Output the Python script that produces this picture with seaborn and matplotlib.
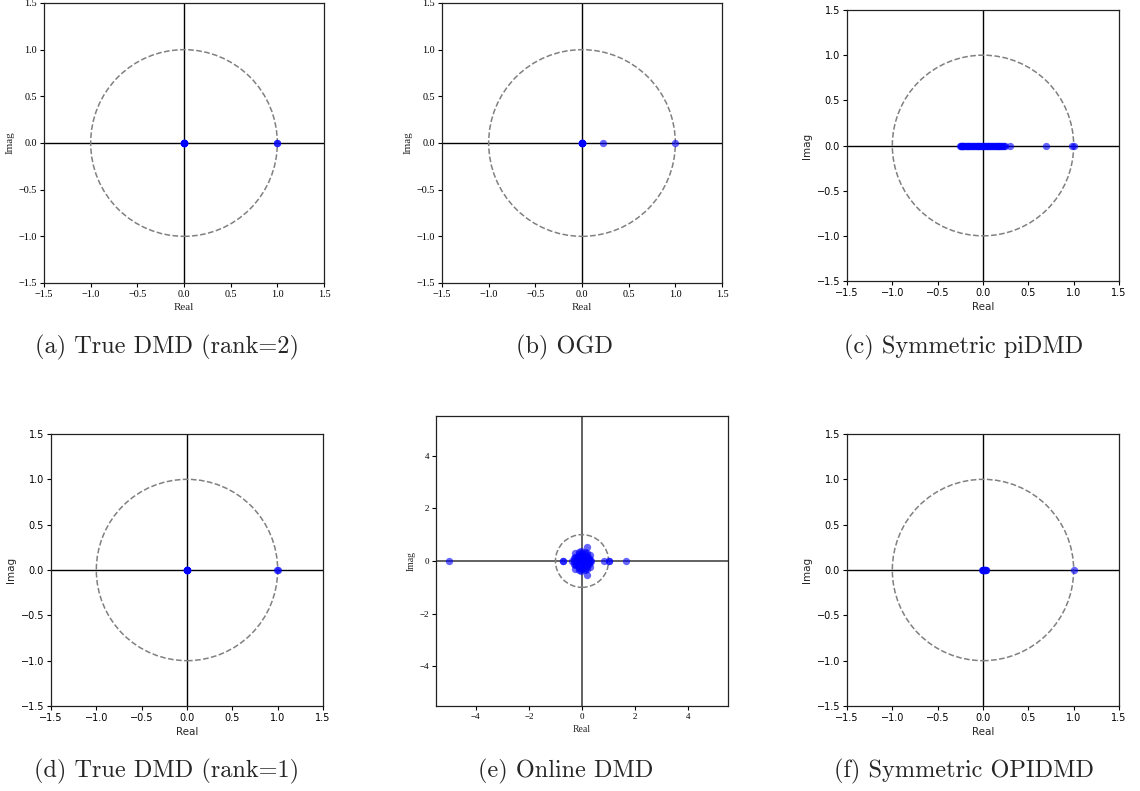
import matplotlib
matplotlib.use("Agg")
import matplotlib.pyplot as plt
from matplotlib.patches import Circle
import seaborn as sns

sns.set_style("ticks")

W, H = 1140, 791

# Eigenvalues (real / imaginary parts) for each method
a_real = [0.0, 0.0, 0.0, 0.0, 0.0, 0.0, 0.0, 0.0, 0.001, -0.001, 1.0, 0.998]
a_imag = [0.0] * len(a_real)

b_real = [0.0, 0.0, 0.0, 0.0, 0.0, 0.0, 0.0, 0.0, 0.001, -0.001, 0.22, 1.0]
b_imag = [0.0] * len(b_real)

c_real = [-0.25, -0.245, -0.24, -0.235, -0.23, -0.225, -0.22, -0.21, -0.2, -0.19,
          -0.18, -0.17, -0.16, -0.15, -0.14, -0.13, -0.12, -0.11, -0.1, -0.09,
          -0.08, -0.07, -0.06, -0.05, -0.04, -0.03, -0.02, -0.01, 0.0, 0.0,
          0.01, 0.02, 0.03, 0.04, 0.05, 0.06, 0.07, 0.08, 0.09, 0.1,
          0.11, 0.12, 0.13, 0.14, 0.15, 0.16, 0.17, 0.18, 0.19, 0.2,
          0.21, 0.22, 0.23, 0.24, 0.3, 0.7, 0.98, 1.0]
c_imag = [0.0] * len(c_real)

d_real = [0.0, 0.0, 0.0, 0.0, 0.0, 0.0, 0.0, 0.0, 0.002, -0.002, 1.0, 0.997]
d_imag = [0.0] * len(d_real)

e_real = [-5.0, -0.72, -0.72, 0.82, 1.0, 1.0, 1.65,
          0.19, 0.19, -0.36, -0.3, -0.28, -0.28, -0.22, -0.22, -0.12, -0.12,
          -0.05, -0.05, 0.0, 0.0, 0.05, 0.05, 0.12, 0.12, 0.2, 0.2,
          0.3, 0.3, 0.32, 0.32, 0.25, 0.25, -0.15, -0.15, 0.0, 0.1, -0.08,
          0.08, -0.18, 0.15, 0.0, -0.25, -0.25, -0.1, -0.1, 0.1, 0.1,
          0.22, 0.22, -0.02, -0.02, 0.03, 0.03, -0.3, -0.3, 0.35, 0.0,
          -0.05, 0.05, 0.18, 0.18, -0.17, -0.17]
e_imag = [0.0, 0.0, 0.0, 0.0, 0.0, 0.0, 0.0,
          0.52, -0.52, 0.0, 0.0, 0.3, -0.3, 0.1, -0.1, 0.35, -0.35,
          0.2, -0.2, 0.3, -0.3, 0.12, -0.12, 0.33, -0.33, 0.18, -0.18,
          0.22, -0.22, 0.05, -0.05, 0.1, -0.1, 0.2, -0.2, 0.0, 0.0, 0.0,
          0.0, 0.0, 0.0, 0.0, 0.15, -0.15, 0.25, -0.25, 0.28, -0.28,
          0.08, -0.08, 0.38, -0.38, 0.06, -0.06, 0.1, -0.1, 0.0, 0.15,
          0.05, -0.05, 0.3, -0.3, 0.05, -0.05]

f_real = [-0.01, -0.005, 0.0, 0.0, 0.005, 0.01, 0.015, 0.02, 0.025, 0.03, 0.033, 1.0]
f_imag = [0.0] * len(f_real)

captions = ["(a) True DMD (rank=2)", "(b) OGD", "(c) Symmetric piDMD",
            "(d) True DMD (rank=1)", "(e) Online DMD", "(f) Symmetric OPIDMD"]

unit_ticks = [-1.5, -1.0, -0.5, 0.0, 0.5, 1.0, 1.5]
wide_ticks = [-4, -2, 0, 2, 4]

fig = plt.figure(figsize=(W / 100, H / 100), dpi=100)


def make_axes(left, top, right, bottom):
    return fig.add_axes([left / W, 1 - bottom / H, (right - left) / W, (bottom - top) / H])


SERIF = "Liberation Serif"
SANS = "DejaVu Sans"

panels = [
    # data, box (l, t, r, b), limit, ticks, font, tick size, label size, axis line style
    (a_real, a_imag, (44, 3, 324, 283), 1.5, unit_ticks, SERIF, 7.3, 8.0, ("k", 1.0)),
    (b_real, b_imag, (442, 3, 722, 283), 1.5, unit_ticks, SERIF, 7.3, 8.0, ("k", 1.0)),
    (c_real, c_imag, (847, 10, 1119, 281), 1.5, unit_ticks, SANS, 7.0, 7.5, ("k", 1.0)),
    (d_real, d_imag, (51, 434, 323, 706), 1.5, unit_ticks, SANS, 7.0, 7.5, ("k", 1.0)),
    (e_real, e_imag, (436, 416, 728, 706), 5.5, wide_ticks, SERIF, 6.5, 7.0, ("#555555", 1.3)),
    (f_real, f_imag, (847, 434, 1119, 706), 1.5, unit_ticks, SANS, 7.0, 7.5, ("k", 1.0)),
]

for xr, yi, box, lim, ticks, font, tsize, lsize, (lc, lw) in panels:
    ax = make_axes(*box)
    ax.axhline(0, color=lc, lw=lw, zorder=1)
    ax.axvline(0, color=lc, lw=lw, zorder=1)
    ax.add_patch(Circle((0, 0), 1.0, fill=False, ls="--", color="gray", lw=1.1, zorder=2))
    sns.scatterplot(x=xr, y=yi, ax=ax, color="blue", alpha=0.6, s=28,
                    linewidth=0, zorder=3, legend=False)
    ax.set_xlim(-lim, lim)
    ax.set_ylim(-lim, lim)
    ax.set_xticks(ticks)
    ax.set_yticks(ticks)
    if lim > 2:
        labels = [f"{t:d}".replace("-", "\u2212") for t in ticks]
    else:
        labels = [f"{t:.1f}".replace("-", "\u2212") for t in ticks]
    ax.set_xticklabels(labels, fontfamily=font, fontsize=tsize)
    ax.set_yticklabels(labels, fontfamily=font, fontsize=tsize)
    ax.tick_params(length=3, width=0.8, pad=2, colors="k")
    ax.set_xlabel("Real", fontfamily=font, fontsize=lsize, labelpad=3)
    ax.set_ylabel("Imag", fontfamily=font, fontsize=lsize, labelpad=3)
    for sp in ax.spines.values():
        sp.set_color("#222222")
        sp.set_linewidth(0.9)

cap_pos = [(167, 347), (565, 347), (964, 347), (167, 771), (566, 771), (964, 771)]
for text, (cx, cy) in zip(captions, cap_pos):
    fig.text(cx / W, 1 - cy / H, text, ha="center", va="center",
             fontfamily="cmr10", fontsize=17.5)

fig.savefig("out.png", dpi=100)
